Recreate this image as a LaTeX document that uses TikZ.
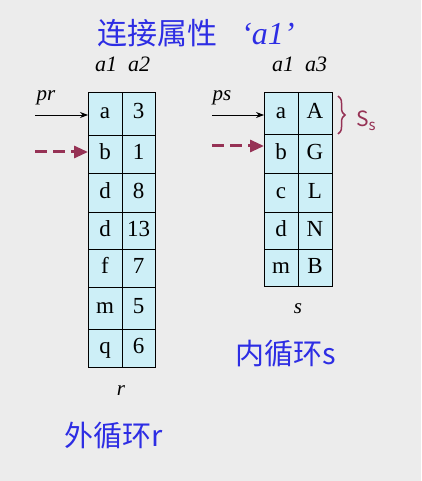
\documentclass[tikz,border=0pt]{standalone}
\usepackage{fontspec}
\setmainfont{Liberation Serif}
\newfontfamily\cjk{Noto Sans CJK SC}
\usetikzlibrary{arrows.meta,decorations.pathreplacing}
\definecolor{bgc}{RGB}{236,236,236}
\definecolor{cellblue}{RGB}{205,239,247}
\definecolor{maroonc}{RGB}{150,50,85}
\definecolor{tblue}{RGB}{45,45,228}
\begin{document}
\begin{tikzpicture}[x=1pt,y=-1pt,
 cell/.style={draw, line width=0.8pt, fill=cellblue, inner sep=0pt, outer sep=0pt, minimum width=34pt, text height=15pt, text depth=4pt, font=\fontsize{23}{23}\selectfont},
 hdr/.style={font=\fontsize{22}{22}\selectfont\itshape, inner sep=0pt, anchor=base},
 cn/.style={font=\fontsize{29}{29}\cjk, text=tblue, inner sep=0pt, anchor=base west},
 ptr/.style={-{Stealth[length=8pt,width=6pt]}, line width=0.8pt},
 dptr/.style={maroonc, line width=3pt, dash pattern=on 12pt off 6pt, -{Triangle[length=14pt,width=12pt]}}]
\fill[bgc] (0,0) rectangle (421,481);
\useasboundingbox (0,0) rectangle (421,481);
% title
\node[anchor=base west, inner sep=0pt, text=tblue] (title) at (97,45)
  {{\fontsize{30}{30}\cjk 连接属性}\hspace{24pt}{\fontsize{32}{32}\selectfont\itshape ‘a1’}};
% headers
\node[hdr] (hra1) at (106,72) {a1};
\node[hdr] (hra2) at (139,72) {a2};
\node[hdr] (hsa1) at (283,72) {a1};
\node[hdr] (hsa3) at (316,72) {a3};
% table r
\foreach \c/\h/\u/\v [count=\i] in {113.5/43/a/3, 154/38/b/1, 192.5/39/d/8, 230.5/37/d/13, 268/38/f/7, 308/42/m/5, 348/38/q/6}{
  \node[cell, minimum height=\h pt] (r\i a) at (105,\c) {\u};
  \node[cell, minimum height=\h pt, minimum width=33pt] (r\i b) at (138.5,\c) {\v};
}
% table s
\foreach \c/\h/\u/\v [count=\i] in {113/42/a/A, 153.5/39/b/G, 192.5/39/c/L, 230.5/37/d/N, 267.5/37/m/B}{
  \node[cell, minimum height=\h pt] (s\i a) at (281,\c) {\u};
  \node[cell, minimum height=\h pt] (s\i b) at (315,\c) {\v};
}
% pointers
\node[anchor=base, inner sep=0pt, font=\fontsize{21}{21}\selectfont\itshape] (pr) at (46,101) {pr};
\node[anchor=base, inner sep=0pt, font=\fontsize{21}{21}\selectfont\itshape] (ps) at (222,101) {ps};
\coordinate (prs) at (35,115);
\coordinate (prd) at (35,152);
\coordinate (pss) at (212,115);
\coordinate (psd) at (212,146);
\draw[ptr] (prs) -- (r1a.west |- prs);
\draw[dptr] (prd) -- (r2a.west |- prd);
\draw[ptr] (pss) -- (s1a.west |- pss);
\draw[dptr] (psd) -- (s2a.west |- psd);
% brace
\coordinate (bt) at (338,96);
\coordinate (bb) at (338,134);
\draw[maroonc, line width=1.5pt, decorate, decoration={brace, amplitude=7pt}] (bt) -- (bb);
\node[anchor=base west, inner sep=0pt, text=maroonc, font=\fontsize{21}{21}\cjk] (ss) at (356,127) {S\raisebox{-4pt}{\fontsize{15}{15}\selectfont s}};
% names
\node[anchor=base, inner sep=0pt, font=\fontsize{21}{21}\selectfont\itshape] (sname) at (298,313) {s};
\node[anchor=base, inner sep=0pt, font=\fontsize{21}{21}\selectfont\itshape] (rname) at (121,395) {r};
\node[cn] (inner) at (235,364) {内循环s};
\node[cn] (outer) at (64,446) {外循环r};
\end{tikzpicture}
\end{document}
